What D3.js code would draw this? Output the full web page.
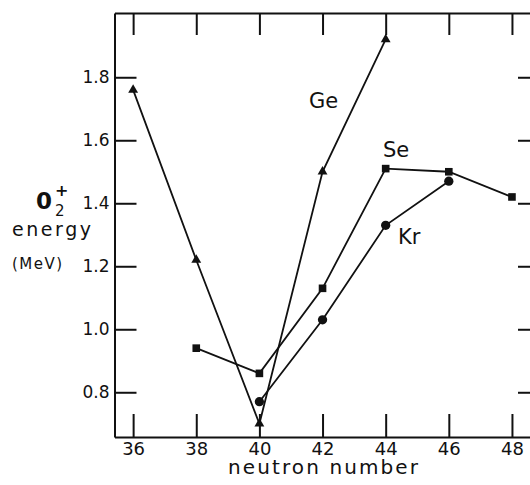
<!DOCTYPE html>
<html>
<head>
<meta charset="utf-8">
<script src="https://cdn.jsdelivr.net/npm/d3@7"></script>
<style>
  body { margin: 0; background: #fff; }
  svg { display: block; font-family: "DejaVu Sans", sans-serif; }
  .axis path, .axis line { stroke: #111; stroke-width: 2; }
  .axis text { fill: #111; }
</style>
</head>
<body>
<svg id="chart" width="530" height="485"></svg>
<script>
// neutron numbers and 0+2 energies (MeV)
const geN = [36, 38, 40, 42, 44]
const geE = [1.76, 1.22, 0.70, 1.50, 1.92]
const seN = [38, 40, 42, 44, 46, 48]
const seE = [0.94, 0.86, 1.13, 1.51, 1.50, 1.42]
const krN = [40, 42, 44, 46]
const krE = [0.77, 1.03, 1.33, 1.47]

const xTicks = [36, 38, 40, 42, 44, 46, 48]
const yTicks = [0.8, 1.0, 1.2, 1.4, 1.6, 1.8]

const svg = d3.select("#chart")

// frame: left 114.5, right off the picture, top 13, bottom 437
let x = d3.scaleLinear().domain([35.41, 48.73]).range([114.5, 535])
let y = d3.scaleLinear().domain([0.658, 2.004]).range([437, 13])

// axes, ticks pointing inward
svg.append("g").attr("class", "axis")
  .attr("transform", "translate(0,437)")
  .call(d3.axisBottom(x).tickValues(xTicks).tickSize(-23).tickSizeOuter(0).tickPadding(5))
  .attr("font-family", null).attr("font-size", 18)

svg.append("g").attr("class", "axis")
  .attr("transform", "translate(0,13)")
  .call(d3.axisTop(x).tickValues(xTicks).tickSize(-22).tickSizeOuter(0).tickFormat(""))

svg.append("g").attr("class", "axis")
  .attr("transform", "translate(114.5,0)")
  .call(d3.axisLeft(y).tickValues(yTicks).tickSize(-22).tickSizeOuter(0).tickPadding(5).tickFormat(d3.format(".1f")))
  .attr("font-family", null).attr("font-size", 17)

svg.append("g").attr("class", "axis")
  .attr("transform", "translate(535,0)")
  .call(d3.axisRight(y).tickValues(yTicks).tickSize(-17).tickSizeOuter(0).tickFormat(""))

svg.selectAll(".axis .domain").attr("stroke-width", 2.2)

// series
const series = [
  {name: "Ge", n: geN, e: geE, sym: d3.symbolTriangle, size: 42},
  {name: "Se", n: seN, e: seE, sym: d3.symbolSquare, size: 58},
  {name: "Kr", n: krN, e: krE, sym: d3.symbolCircle, size: 68}
]

let line = d3.line().x(d => x(d[0])).y(d => y(d[1]))

series.forEach(s => {
  let pts = s.n.map((n, i) => [n, s.e[i]])
  svg.append("path")
    .datum(pts)
    .attr("d", line)
    .attr("fill", "none")
    .attr("stroke", "#111")
    .attr("stroke-width", 1.8)
  svg.selectAll(".m" + s.name)
    .data(pts).enter()
    .append("path")
    .attr("transform", d => `translate(${x(d[0])},${y(d[1])})`)
    .attr("d", d3.symbol().type(s.sym).size(s.size))
    .attr("fill", "#111")
})

// series labels
const lab = (t, px, py) => svg.append("text").attr("x", px).attr("y", py)
  .style("font-size", "21px").attr("fill", "#111").text(t)
lab("Ge", 309, 108)
lab("Se", 383, 157)
lab("Kr", 398, 244)

// x title
svg.append("text").attr("x", 228).attr("y", 474)
  .attr("textLength", 190).attr("lengthAdjust", "spacing")
  .style("font-size", "20px").attr("fill", "#111").text("neutron number")

// y title
svg.append("text").attr("x", 36).attr("y", 209)
  .style("font-size", "23px").style("font-weight", "bold").attr("fill", "#111").text("0")
svg.append("text").attr("x", 55).attr("y", 196)
  .style("font-size", "16px").style("font-weight", "bold").attr("fill", "#111").text("+")
svg.append("text").attr("x", 55).attr("y", 216)
  .style("font-size", "15px").attr("fill", "#111").text("2")
svg.append("text").attr("x", 12).attr("y", 236)
  .attr("textLength", 79).attr("lengthAdjust", "spacing")
  .style("font-size", "19px").attr("fill", "#111").text("energy")
svg.append("text").attr("x", 12).attr("y", 269)
  .attr("textLength", 50).attr("lengthAdjust", "spacing")
  .style("font-size", "15px").attr("fill", "#111").text("(MeV)")
</script>
</body>
</html>
